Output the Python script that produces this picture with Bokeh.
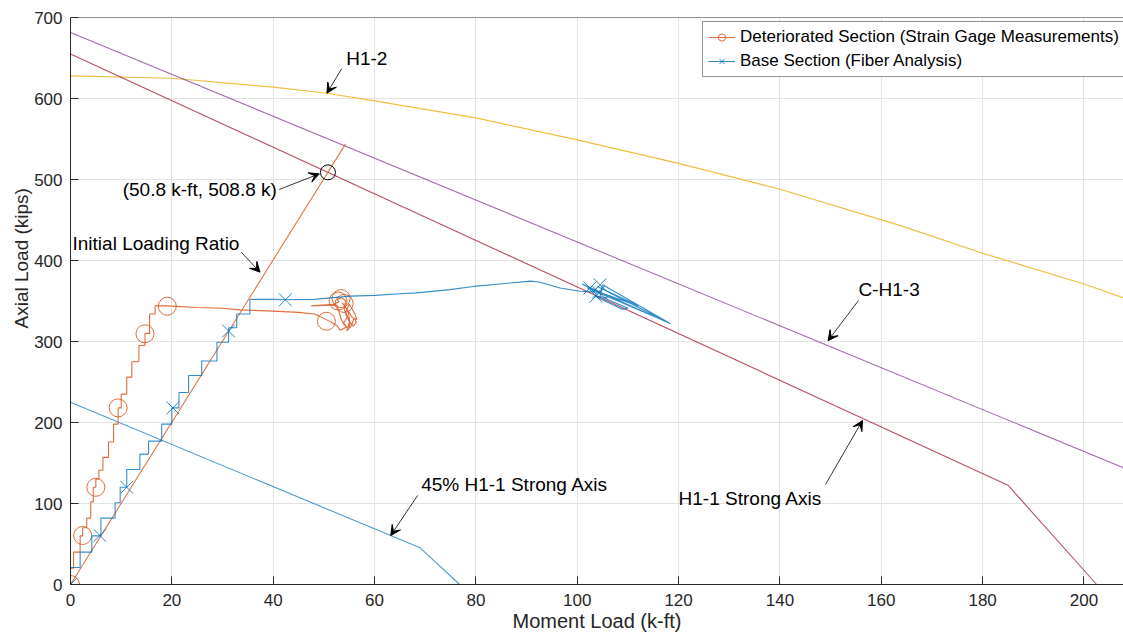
from bokeh.plotting import figure
from bokeh.models import (Range1d, Label, Arrow, VeeHead, Legend, LegendItem,
                          FixedTicker, Span, Title)
from bokeh.embed import file_html
from bokeh.resources import INLINE

# ---------------- data ----------------
# interaction diagrams
h12_x = [0, 20, 40, 50.6, 60, 80, 100, 120, 140, 163.8, 180, 200, 207.8]
h12_y = [628, 625, 614, 606.5, 597, 576, 549, 520, 488, 443, 409, 371, 354]

ch13_x = [0, 207.8]
ch13_y = [681.5, 144]

h11_x = [0, 185.0, 202.5]
h11_y = [655, 122.6, 0]

h11_45_x = [0, 69.0, 76.8]
h11_45_y = [225, 45.3, 0]

ratio_x = [0, 54.3]
ratio_y = [0, 544]

pt_x = [50.8]
pt_y = [508.8]

# deteriorated section (strain gage) - staircase part then path
det_step_x = [0, 0.6, 1.9, 2.4, 3.2, 4.0, 4.5, 5.0, 5.6, 6.4, 7.5, 8.5, 9.4, 10.0,
              11.1, 12.1, 13.5, 14.7, 15.6, 16.7, 19.1]
det_step_y = [0, 20, 40, 60, 70, 82, 102, 120, 130, 141, 157, 176, 198, 218,
              235, 256, 275, 295, 310, 334, 344]
det_x = [19.1, 25, 30, 33.5, 40, 45, 48.2, 50.5, 52.5, 53.2, 54.5, 53.5, 52.6, 47.5,
         52.0, 53.0, 52.6, 53.4, 54.3, 54.0, 54.6, 53.8, 54.9, 55.2, 54.3, 55.0,
         55.5, 56.2, 56.5, 55.6, 54.2, 53.6, 54.8, 55.1, 54.5, 55.3, 56.0, 56.4,
         55.8, 54.9, 54.3]
det_y = [344, 342, 341, 339, 337.5, 336, 334, 327, 320, 314, 318, 326, 345, 344,
         346, 349, 352, 354, 351, 340, 330, 322, 315, 323, 336, 346,
         341, 333, 327, 330, 343, 348, 337, 325, 313, 318, 329, 324,
         319, 326, 334]
det_mk_x = [0, 2.4, 5.0, 9.4, 14.7, 19.1, 50.5, 52.8, 53.4, 54.0]
det_mk_y = [0, 60.5, 120, 218, 309.5, 343.5, 325, 350, 353, 347]

# base section (fiber analysis)
base_step_x = [0, 1.9, 4.2, 6.0, 8.8, 9.8, 11.1, 13.7, 15.4, 18.0, 20.0, 21.4, 23.3,
               25.9, 28.9, 31.2, 32.8, 35.4, 40.0]
base_step_y = [0, 21, 40, 60, 82, 101, 120, 142, 161, 177, 198, 218, 237,
               258, 276, 299, 317, 334, 352]
base_x = [40.0, 42.4, 48, 55.2, 60.1, 65.1, 68.3, 74.9, 79.5, 84.8, 90.7, 92.5,
          96.6, 100.6, 103.9, 101, 118.4, 104, 112, 102, 118, 105, 104.5, 110,
          108.8, 103.5, 106]
base_y = [352, 351.5, 352, 356, 357, 359, 360, 364, 368, 371, 374.5, 373.5,
          366, 362, 361, 371, 322, 368, 344, 366, 323.5, 370, 356, 341,
          340, 356, 354]
base_mk_x = [0, 5.8, 11.1, 20.2, 31.2, 42.4, 102.5, 104.5, 103.7, 104.2]
base_mk_y = [0, 60.5, 120, 218, 313, 351.5, 366, 370, 356, 361]

x_ticks = [0, 20, 40, 60, 80, 100, 120, 140, 160, 180, 200]
y_ticks = [0, 100, 200, 300, 400, 500, 600, 700]

# ---------------- styling ----------------
FONT = "Liberation Sans"
AX = "#262626"
BLUE = "#0072BD"
ORANGE = "#D95319"
YELLOW = "#EDB120"
PURPLE = "#7E2F8E"
RED = "#A2142F"

p = figure(width=1123, height=639, output_backend="svg", toolbar_location=None,
           x_range=Range1d(0, 207.8), y_range=Range1d(0, 700),
           min_border_left=70, min_border_right=0, min_border_top=17,
           min_border_bottom=55)
p.background_fill_color = "white"
p.outline_line_color = None

for ax in (p.xaxis[0], p.yaxis[0]):
    ax.axis_line_color = AX
    ax.major_tick_line_color = AX
    ax.major_tick_in = 8
    ax.major_tick_out = 0
    ax.minor_tick_line_color = None
    ax.major_label_text_font = FONT
    ax.major_label_text_font_size = "17px"
    ax.major_label_text_color = AX
p.xaxis.ticker = FixedTicker(ticks=x_ticks)
p.yaxis.ticker = FixedTicker(ticks=y_ticks)
p.xaxis.major_label_standoff = 9
p.yaxis.major_label_standoff = 8
p.xaxis.axis_label = "Moment Load (k-ft)"
p.xaxis.axis_label_text_font = FONT
p.xaxis.axis_label_text_font_size = "20px"
p.xaxis.axis_label_text_font_style = "normal"
p.xaxis.axis_label_text_color = AX
p.xaxis.axis_label_standoff = 1

# top border of the axes box
p.add_layout(Span(location=700, dimension="width", line_color=AX, line_width=1))

p.xgrid.ticker = FixedTicker(ticks=x_ticks)
p.ygrid.ticker = FixedTicker(ticks=y_ticks)
for g in (p.xgrid[0], p.ygrid[0]):
    g.grid_line_color = "#e3e3e3"
    g.grid_line_width = 1

# curves
p.line(h12_x, h12_y, line_color=YELLOW, line_width=1.2, line_alpha=0.85)
p.line(ch13_x, ch13_y, line_color=PURPLE, line_width=1.1, line_alpha=0.7)
p.line(h11_x, h11_y, line_color=RED, line_width=1.1, line_alpha=0.75)
p.line(h11_45_x, h11_45_y, line_color=BLUE, line_width=1.1, line_alpha=0.7)
p.line(ratio_x, ratio_y, line_color=ORANGE, line_width=1.1, line_alpha=0.8)

o_step = p.step(det_step_x, det_step_y, mode="before", line_color=ORANGE,
                line_width=1.1, line_alpha=0.85)
o_line = p.line(det_x, det_y, line_color=ORANGE, line_width=1.1, line_alpha=0.85)
o_mk = p.scatter(det_mk_x, det_mk_y, marker="circle", size=18, fill_color=None,
                 line_color=ORANGE, line_width=1, line_alpha=0.85)

b_step = p.step(base_step_x, base_step_y, mode="before", line_color=BLUE,
                line_width=1.1, line_alpha=0.8)
b_line = p.line(base_x, base_y, line_color=BLUE, line_width=1.1, line_alpha=0.8)
b_mk = p.scatter(base_mk_x, base_mk_y, marker="x", size=18, line_color=BLUE,
                 line_width=1, line_alpha=0.85)

p.scatter(pt_x, pt_y, marker="circle", size=15, fill_color=None,
          line_color="black", line_width=1)

# annotations
def note(text, x, y):
    p.add_layout(Label(x=x, y=y, text=text, text_font=FONT, text_font_size="19px",
                       text_color="black", text_align="left",
                       text_baseline="middle"))

def arrow(x0, y0, x1, y1):
    p.add_layout(Arrow(x_start=x0, y_start=y0, x_end=x1, y_end=y1,
                       line_color="black", line_width=0.8,
                       end=VeeHead(size=10, fill_color="black",
                                   line_color="black", line_width=1)))

note("H1-2", 54.4, 648.8)
arrow(53.5, 636.7, 50.6, 606.5)
note("(50.8 k-ft, 508.8 k)", 10.3, 487.6)
arrow(41.2, 487.7, 49.1, 507.0)
note("Initial Loading Ratio", 0.4, 421.6)
arrow(33.7, 410.2, 37.4, 385.6)
note("45% H1-1 Strong Axis", 69.2, 123.5)
arrow(68.5, 109.9, 63.2, 60.5)
note("H1-1 Strong Axis", 120.0, 106.0)
arrow(149.0, 123.5, 156.3, 202.5)
note("C-H1-3", 155.5, 364.0)
arrow(155.5, 350.6, 149.5, 301.0)

# y axis title (placed off-centre as in the original)
p.add_layout(Title(text="Axial Load (kips)", text_font=FONT, text_font_size="19px",
                   text_font_style="normal", text_color=AX, align="left",
                   offset=256, standoff=0), "left")

legend = Legend(items=[
    LegendItem(label="Deteriorated Section (Strain Gage Measurements)",
               renderers=[o_step, o_mk]),
    LegendItem(label="Base Section (Fiber Analysis)", renderers=[b_step, b_mk]),
], location=(632, 507))
legend.label_text_font = FONT
legend.label_text_font_size = "17px"
legend.label_text_color = "black"
legend.glyph_width = 27
legend.glyph_height = 18
legend.label_height = 18
legend.label_standoff = 5
legend.spacing = 4
legend.padding = 5
legend.margin = 0
legend.border_line_color = AX
legend.border_line_width = 1
legend.background_fill_alpha = 1
p.add_layout(legend)

open("out.html", "w").write(file_html(p, INLINE))
